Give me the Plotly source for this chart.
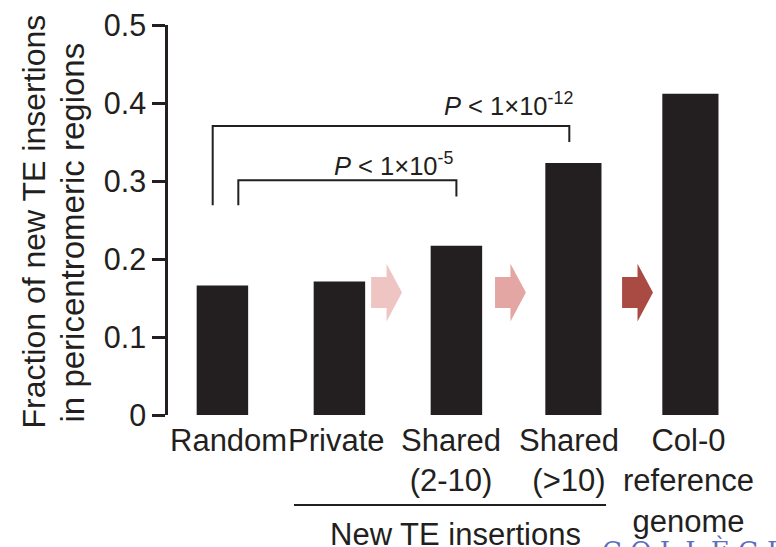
import html
import plotly.graph_objects as go

# Fraction of new TE insertions that fall in pericentromeric regions
categories = ["Random", "Private", "Shared\n(2-10)", "Shared\n(>10)", "Col-0\nreference\ngenome"]
fractions = [0.166, 0.171, 0.217, 0.323, 0.412]
y_ticks = [0, 0.1, 0.2, 0.3, 0.4, 0.5]
y_tick_text = ["0", "0.1", "0.2", "0.3", "0.4", "0.5"]

# Significance comparisons: (left category, right category, bracket height, text)
comparisons = [
    (0, 3, 0.3705, "<i>P</i> &lt; 1×10<sup>-12</sup>"),
    (0, 2, 0.301, "<i>P</i> &lt; 1×10<sup>-5</sup>"),
]
group_label = "New TE insertions"
footer_mark = "C O L L È G E"

INK = "#231f20"
FONT = "Liberation Sans, Arial, sans-serif"

x_idx = list(range(len(categories)))
bar_widths = [0.44, 0.44, 0.44, 0.48, 0.48]

fig = go.Figure()
fig.add_trace(go.Bar(
    x=x_idx, y=fractions, width=bar_widths,
    marker=dict(color=INK, line=dict(width=0)),
    hoverinfo="skip",
))

shapes = []
annotations = []

# brackets for the two comparisons
bracket_geom = [
    # left x offset, right x offset, left leg end, right leg end, text x, text y
    (-0.083, -0.035, 0.269, 0.350, 1.874, 0.399),
    (0.136, 0.0, 0.269, 0.280, 0.936, 0.322),
]
for (a, b, h, txt), (lo, ro, ll, rl, tx, ty) in zip(comparisons, bracket_geom):
    xl, xr = a + lo, b + ro
    shapes.append(dict(
        type="path", xref="x", yref="y",
        path=f"M {xl} {ll} L {xl} {h} L {xr} {h} L {xr} {rl}",
        line=dict(color=INK, width=2),
    ))
    annotations.append(dict(
        x=tx, y=ty, xref="x", yref="y", text=txt, showarrow=False,
        xanchor="left", yanchor="middle",
        font=dict(family=FONT, size=25.5, color=INK),
    ))

# block arrows between the bars
arrow_centers = [1.403, 2.462, 3.548]
arrow_colors = ["#efc5c4", "#e3a6a3", "#a94b43"]
arrow_y = 0.157
hw, bh, hh = 0.132, 0.0199, 0.037
for cx, col in zip(arrow_centers, arrow_colors):
    p = (f"M {cx - hw} {arrow_y - bh} L {cx} {arrow_y - bh} L {cx} {arrow_y - hh} "
         f"L {cx + hw} {arrow_y} L {cx} {arrow_y + hh} L {cx} {arrow_y + bh} "
         f"L {cx - hw} {arrow_y + bh} Z")
    shapes.append(dict(type="path", xref="x", yref="y", path=p,
                       fillcolor=col, line=dict(width=0)))

# category labels under the bars
label_shift = [6, -3, -5, -4, -2]
for i, (lab, sh) in enumerate(zip(categories, label_shift)):
    annotations.append(dict(
        x=i, y=0, xref="x", yref="y", xshift=sh, yshift=-6,
        text=html.escape(lab).replace("\n", "<br>"), showarrow=False,
        xanchor="center", yanchor="top", align="center",
        font=dict(family=FONT, size=31, color=INK),
    ))

# group line and label for the new insertions (paper coords, below the axis)
annotations.append(dict(
    x=(455 - 168) / 608, y=(415 - 515) / 390, xref="paper", yref="paper",
    text=group_label, showarrow=False, xanchor="center", yanchor="top",
    font=dict(family=FONT, size=31, color=INK),
))
shapes.append(dict(type="line", xref="paper", yref="paper",
                   x0=(294 - 168) / 608, x1=(606 - 168) / 608,
                   y0=(415 - 505) / 390, y1=(415 - 505) / 390,
                   line=dict(color=INK, width=2)))

# institution mark at the lower right edge
annotations.append(dict(
    x=(600 - 168) / 608, y=(415 - 533) / 390, xref="paper", yref="paper",
    text=footer_mark, showarrow=False, xanchor="left", yanchor="top",
    font=dict(family="DejaVu Serif, serif", size=26, color="#5b6ec4"),
))

# y-axis title on two lines
annotations.append(dict(
    x=-0.2204, y=0.496, xref="paper", yref="paper", textangle=-90,
    text="Fraction of new TE insertions", showarrow=False,
    xanchor="center", yanchor="middle",
    font=dict(family=FONT, size=32, color=INK),
))
annotations.append(dict(
    x=-0.1579, y=0.468, xref="paper", yref="paper", textangle=-90,
    text="in pericentromeric regions", showarrow=False,
    xanchor="center", yanchor="middle",
    font=dict(family=FONT, size=33, color=INK),
))

fig.update_layout(
    width=776, height=547,
    margin=dict(l=168, r=0, t=25, b=132),
    paper_bgcolor="white", plot_bgcolor="white",
    showlegend=False,
    shapes=shapes, annotations=annotations,
    xaxis=dict(range=[-0.465, -0.465 + 608 / 117], visible=False, fixedrange=True),
    yaxis=dict(
        range=[0, 0.5], tickvals=y_ticks, ticktext=y_tick_text,
        showline=True, linecolor=INK, linewidth=2.5,
        ticks="outside", ticklen=13, tickwidth=2.5, tickcolor=INK,
        tickfont=dict(family=FONT, size=30.5, color=INK),
        showgrid=False, zeroline=False, fixedrange=True,
    ),
)

fig.write_html("out.html")
